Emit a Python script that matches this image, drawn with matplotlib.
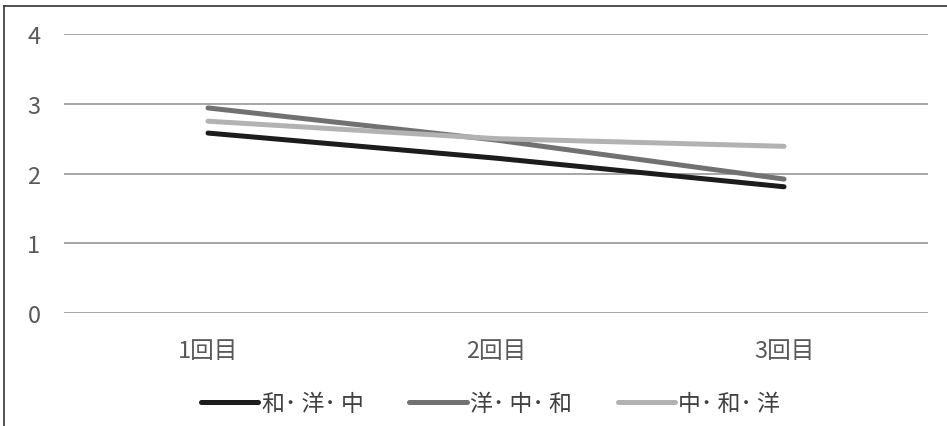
import matplotlib
matplotlib.use("Agg")
import matplotlib.pyplot as plt
from matplotlib.lines import Line2D

plt.rcParams["font.family"] = ["Noto Sans CJK JP", "DejaVu Sans"]

# ---- data ---------------------------------------------------------------- #
rounds = ["1回目", "2回目", "3回目"]
wa_you_chu = [2.58, 2.22, 1.81]
you_chu_wa = [2.94, 2.48, 1.92]
chu_wa_you = [2.75, 2.50, 2.39]

series = [
    ("和･ 洋･ 中", wa_you_chu, "#1c1c1c"),
    ("洋･ 中･ 和", you_chu_wa, "#717171"),
    ("中･ 和･ 洋", chu_wa_you, "#b2b2b2"),
]

fig = plt.figure(figsize=(9.47, 4.27), dpi=100)
ax = fig.add_axes([0.0676, 0.2646, 0.9124, 0.6534])

x = list(range(len(rounds)))
for label, vals, color in series:
    ax.plot(x, vals, color=color, lw=3.6, solid_capstyle="round", label=label)

ax.set_xlim(-0.5, len(rounds) - 0.5)
ax.set_ylim(0, 4)
ax.set_yticks([0, 1, 2, 3, 4])
ax.set_xticks(x)
ax.set_xticklabels(rounds)
ax.yaxis.grid(True, color="#a6a6a6", lw=1.4)
ax.set_axisbelow(True)
for s in ax.spines.values():
    s.set_visible(False)
ax.tick_params(axis="both", length=0, labelsize=17, labelcolor="#595959")
ax.tick_params(axis="y", pad=17)
ax.tick_params(axis="x", pad=19)

fig.legend(loc="center", bbox_to_anchor=(0.518, 0.052), ncol=3, frameon=False,
           fontsize=16.5, handlelength=2.5, handletextpad=0.15, columnspacing=2.0,
           labelcolor="#404040")

# outer frame (left and top edges)
fig.add_artist(Line2D([0.0045, 0.0045], [0, 0.984], color="#333333", lw=1.2,
                      transform=fig.transFigure))
fig.add_artist(Line2D([0.0045, 1.0], [0.984, 0.984], color="#333333", lw=1.2,
                      transform=fig.transFigure))

fig.savefig("out.png", dpi=100)
